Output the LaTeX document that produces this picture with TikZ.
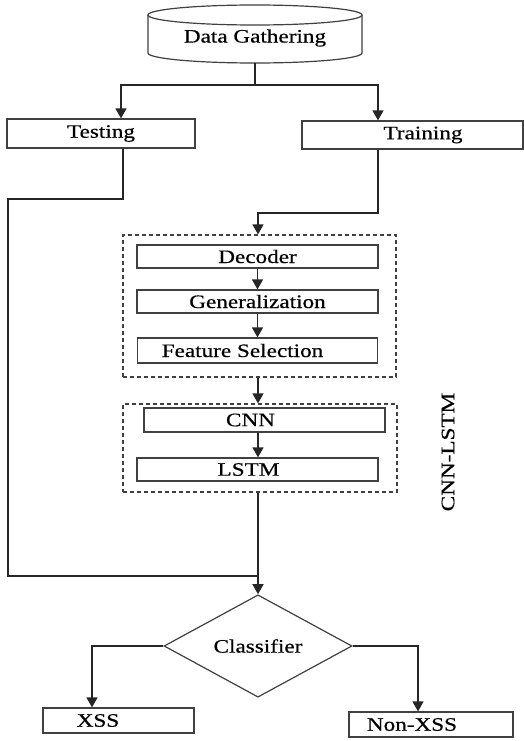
\documentclass[tikz,border=0pt]{standalone}
\usepackage{fontspec}
\setmainfont{Liberation Serif}[FakeStretch=1.22,FakeBold=0.5]
\usetikzlibrary{arrows.meta,shapes.geometric}
\begin{document}
\begin{tikzpicture}[x=1pt,y=-1pt,
  ln/.style={draw=black!85, line width=1.4pt},
  arr/.style={ln,-{Triangle[width=11pt,length=10pt]}},
  box/.style={draw=black!75, line width=1.2pt, rectangle, inner sep=0pt, font=\fontsize{19}{21}\selectfont},
  grp/.style={draw=black!75, line width=1.2pt, dash pattern=on 4pt off 3pt, rectangle, inner sep=0pt},
  txt/.style={font=\fontsize{19}{21}\selectfont, inner sep=0pt}]
\useasboundingbox[fill=white] (0,0) rectangle (524,741);
% cylinder
\draw[draw=black!75, line width=1.2pt] (148,15) -- (148,53) arc[start angle=180,end angle=360,x radius=107pt,y radius=10pt] -- (362,15);
\draw[draw=black!75, line width=1.2pt] (255,15) ellipse [x radius=107pt, y radius=10pt];
\node[txt] (dg) at (255,38) {Data Gathering};
\coordinate (dgb) at (255,63);
\coordinate (sp) at (255,85);
\coordinate (spl) at (121,85);
\coordinate (spr) at (378,85);
% first level boxes
\node[box, minimum width=188pt, minimum height=29pt] (test) at (101,133.5) {Testing};
\node[box, minimum width=221pt, minimum height=28pt] (train) at (412.5,135) {\hspace*{21pt}Training};
\draw[ln] (dgb) -- (sp);
\draw[arr] (sp) -- (spl) -- (test.north -| spl);
\draw[arr] (sp) -- (spr) -- (train.north -| spr);
% dashed group 1
\node[grp, minimum width=273pt, minimum height=142pt] (g1) at (259.5,306) {};
\node[box, minimum width=241pt, minimum height=23pt] (dec) at (257.5,256.5) {Decoder};
\node[box, minimum width=241pt, minimum height=23pt] (gen) at (257.5,301.5) {Generalization};
\node[box, minimum width=240pt, minimum height=25pt] (fs) at (257.5,350.5) {Feature Selection\hspace*{30pt}};
% dashed group 2
\node[grp, minimum width=274pt, minimum height=88pt] (g2) at (260,448) {};
\node[box, minimum width=241pt, minimum height=24pt] (cnn) at (264.5,420) {CNN\hspace*{28pt}};
\node[box, minimum width=241pt, minimum height=23pt] (lstm) at (257.5,469.5) {LSTM\hspace*{18pt}};
\node[txt, rotate=90] (lbl) at (448,452) {CNN-LSTM};
% classifier
\node[diamond, draw=black!75, line width=1.2pt, minimum width=188pt, minimum height=82pt, txt] (cls) at (258,646) {Classifier};
\node[box, minimum width=151pt, minimum height=25pt] (xss) at (118.5,720.5) {XSS\hspace*{41pt}};
\node[box, minimum width=164pt, minimum height=25pt] (non) at (431,724.5) {Non-XSS\hspace*{38pt}};
% coordinates for routing
\coordinate (t1) at (123,199);
\coordinate (t2) at (8,199);
\coordinate (t3) at (8,576);
\coordinate (t4) at (258,576);
\coordinate (r1) at (378,213);
\coordinate (r2) at (258,213);
\coordinate (xl) at (92,646);
\coordinate (xr) at (418,646);
% connectors
\draw[ln] (test.south -| t1) -- (t1) -- (t2) -- (t3) -- (t4);
\draw[arr] (train.south -| r1) -- (r1) -- (r2) -- (g1.north -| r2);
\draw[arr] (dec) -- (gen);
\draw[arr] (gen) -- (fs);
\draw[arr] (g1.south -| r2) -- (g2.north -| r2);
\draw[arr] (cnn.south -| r2) -- (lstm.north -| r2);
\draw[arr] (g2.south -| r2) -- (cls.north);
\draw[arr] (cls.west) -- (xl) -- (xss.north -| xl);
\draw[arr] (cls.east) -- (xr) -- (non.north -| xr);
\end{tikzpicture}
\end{document}
